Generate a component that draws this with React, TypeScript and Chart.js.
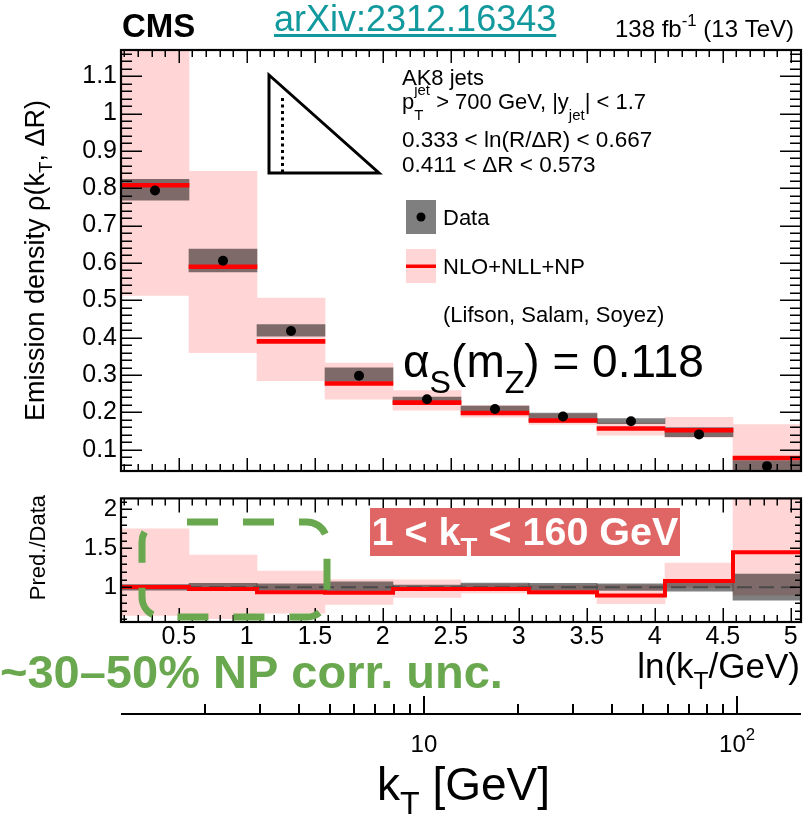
import React, { useEffect, useRef } from 'react';
import { Chart, registerables } from 'chart.js';

Chart.register(...registerables);

const FONT = "'Liberation Sans', Arial, Helvetica, sans-serif";

// ---------------- data ----------------
const binEdges = [0.075, 0.575, 1.075, 1.575, 2.075, 2.575, 3.075, 3.575, 4.075, 4.575, 5.075];
const binCenters = [0.325, 0.825, 1.325, 1.825, 2.325, 2.825, 3.325, 3.825, 4.325, 4.825];

const dataVal = [0.794, 0.606, 0.418, 0.298, 0.235, 0.209, 0.189, 0.176, 0.141, 0.056];
const dataLo = [0.768, 0.576, 0.404, 0.283, 0.222, 0.203, 0.174, 0.17, 0.135, 0.02];
const dataHi = [0.8235, 0.637, 0.435, 0.319, 0.241, 0.217, 0.198, 0.183, 0.159, 0.071];

const theoryVal = [0.808, 0.59, 0.39, 0.277, 0.226, 0.198, 0.178, 0.157, 0.152, 0.078];
const theoryLo = [0.513, 0.36, 0.285, 0.235, 0.206, 0.187, 0.168, 0.139, 0.133, 0.02];
const theoryHi = [1.25, 0.845, 0.506, 0.332, 0.258, 0.219, 0.195, 0.172, 0.187, 0.167];

const ratioTheory = [1.005, 0.98, 0.936, 0.93, 0.98, 0.98, 0.936, 0.896, 1.08, 1.45];
const ratioBandLo = [0.64, 0.6, 0.67, 0.78, 0.87, 0.93, 0.91, 0.79, 1.0, 0.9];
const ratioBandHi = [1.75, 1.415, 1.21, 1.1, 1.096, 1.04, 1.03, 1.03, 1.31, 2.5];
const ratioDataLo = [0.965, 0.96, 0.96, 0.95, 0.97, 0.96, 0.96, 0.96, 0.95, 0.835];
const ratioDataHi = [1.035, 1.05, 1.045, 1.07, 1.03, 1.055, 1.05, 1.045, 1.06, 1.17];
const ratioRef = [1, 1];

const upperYTicks = [0.1, 0.2, 0.3, 0.4, 0.5, 0.6, 0.7, 0.8, 0.9, 1, 1.1];
const ratioYTicks = [1, 1.5, 2];
const lnKtTicks = [0.5, 1, 1.5, 2, 2.5, 3, 3.5, 4, 4.5, 5];
const ktMajorTicks = [10, 100];
const ktMajorLabels = [[{ t: '10' }], [{ t: '10', sup: '2' }]];
const ktMinorTicks = [2, 3, 4, 5, 6, 7, 8, 9, 20, 30, 40, 50, 60, 70, 80, 90];

const lnRange = [0.075, 5.075];
const upperYRange = [0.043, 1.17];
const ratioYRange = [0.556, 2.14];
const ktRange = [1.078, 160];

// ---------------- styles ----------------
const PINK = '#ffd5d5';
const GRAY = 'rgba(0,0,0,0.5)';
const RED = '#ff0000';
const GREEN = '#6aa84f';
const TEAL = '#11999e';
const LO_TOP = 480;

type Seg = { t: string; sub?: string; sup?: string };
type RichOpts = {
  weight?: string;
  color?: string;
  align?: 'left' | 'center' | 'right';
  scale?: number;
  subDy?: number;
  supDy?: number;
};

function richWidth(ctx: CanvasRenderingContext2D, segs: Seg[], size: number, o: RichOpts) {
  const w8 = o.weight || 'normal';
  const sc = o.scale ?? 0.7;
  let w = 0;
  for (const s of segs) {
    ctx.font = `${w8} ${size}px ${FONT}`;
    w += ctx.measureText(s.t).width;
    ctx.font = `${w8} ${size * sc}px ${FONT}`;
    const a = s.sub ? ctx.measureText(s.sub).width : 0;
    const b = s.sup ? ctx.measureText(s.sup).width : 0;
    w += Math.max(a, b);
  }
  return w;
}

function drawRich(ctx: CanvasRenderingContext2D, segs: Seg[], x: number, y: number, size: number, o: RichOpts = {}) {
  const w8 = o.weight || 'normal';
  const sc = o.scale ?? 0.7;
  const subDy = (o.subDy ?? 0.3) * size;
  const supDy = (o.supDy ?? -0.42) * size;
  const total = richWidth(ctx, segs, size, o);
  let cx = o.align === 'center' ? x - total / 2 : o.align === 'right' ? x - total : x;
  ctx.fillStyle = o.color || '#000';
  ctx.textBaseline = 'alphabetic';
  ctx.textAlign = 'left';
  for (const s of segs) {
    ctx.font = `${w8} ${size}px ${FONT}`;
    ctx.fillText(s.t, cx, y);
    cx += ctx.measureText(s.t).width;
    ctx.font = `${w8} ${size * sc}px ${FONT}`;
    let a = 0;
    let b = 0;
    if (s.sub) {
      ctx.fillText(s.sub, cx, y + subDy);
      a = ctx.measureText(s.sub).width;
    }
    if (s.sup) {
      ctx.fillText(s.sup, cx, y + supDy);
      b = ctx.measureText(s.sup).width;
    }
    cx += Math.max(a, b);
  }
}

type Mark = { v: number; major: boolean };
const lnMarks: Mark[] = [];
for (let k = 1; k <= 50; k++) lnMarks.push({ v: k / 10, major: k % 5 === 0 });
const upperYMarks: Mark[] = [];
for (let k = 3; k <= 58; k++) upperYMarks.push({ v: k / 50, major: k % 5 === 0 });
const ratioYMarks: Mark[] = [];
for (let k = 6; k <= 21; k++) ratioYMarks.push({ v: k / 10, major: k % 5 === 0 });

function drawFrame(chart: any, yMarks: Mark[], L: { xMaj: number; xMin: number; yMaj: number; yMin: number }) {
  const { ctx, chartArea: a } = chart;
  const xs = chart.scales.x;
  const ys = chart.scales.y;
  ctx.save();
  ctx.strokeStyle = '#000';
  ctx.lineWidth = 1.5;
  ctx.beginPath();
  for (const m of lnMarks) {
    if (m.v < xs.min || m.v > xs.max) continue;
    const px = Math.round(xs.getPixelForValue(m.v)) + 0.25;
    const len = m.major ? L.xMaj : L.xMin;
    ctx.moveTo(px, a.top);
    ctx.lineTo(px, a.top + len);
    ctx.moveTo(px, a.bottom);
    ctx.lineTo(px, a.bottom - len);
  }
  for (const m of yMarks) {
    if (m.v < ys.min || m.v > ys.max) continue;
    const py = Math.round(ys.getPixelForValue(m.v)) + 0.25;
    const len = m.major ? L.yMaj : L.yMin;
    ctx.moveTo(a.left, py);
    ctx.lineTo(a.left + len, py);
    ctx.moveTo(a.right, py);
    ctx.lineTo(a.right - len, py);
  }
  ctx.stroke();
  ctx.lineWidth = 2.2;
  ctx.strokeRect(a.left, a.top, a.right - a.left, a.bottom - a.top);
  ctx.restore();
}

const upperOverlay = {
  id: 'upperOverlay',
  afterDraw(chart: any) {
    const ctx: CanvasRenderingContext2D = chart.ctx;
    drawFrame(chart, upperYMarks, { xMaj: 13, xMin: 7, yMaj: 21, yMin: 11 });
    ctx.save();
    // header
    drawRich(ctx, [{ t: 'CMS' }], 122, 37, 33, { weight: 'bold' });
    drawRich(ctx, [{ t: 'arXiv:2312.16343' }], 274, 31, 36, { color: TEAL });
    ctx.fillStyle = TEAL;
    ctx.font = `normal 36px ${FONT}`;
    const aw = ctx.measureText('arXiv:2312.16343').width;
    ctx.fillRect(274, 34, aw, 3);
    drawRich(ctx, [{ t: '138 fb', sup: '-1' }, { t: ' (13 TeV)' }], 794, 37, 24, { align: 'right', supDy: -0.45 });

    // y title
    ctx.save();
    ctx.translate(44, 100);
    ctx.rotate(-Math.PI / 2);
    drawRich(ctx, [{ t: 'Emission density ρ(k', sub: 'T' }, { t: ', ΔR)' }], 0, 0, 27, { align: 'right', subDy: 0.3 });
    ctx.restore();

    // Lund-plane triangle
    ctx.strokeStyle = '#000';
    ctx.lineWidth = 3;
    ctx.lineJoin = 'miter';
    ctx.beginPath();
    ctx.moveTo(269, 75);
    ctx.lineTo(269, 173);
    ctx.lineTo(379, 173);
    ctx.closePath();
    ctx.stroke();
    ctx.save();
    ctx.setLineDash([3, 3.5]);
    ctx.beginPath();
    ctx.moveTo(282.5, 98);
    ctx.lineTo(282.5, 173);
    ctx.stroke();
    ctx.restore();

    // selection text
    drawRich(ctx, [{ t: 'AK8 jets' }], 402, 85, 22);
    drawRich(ctx, [{ t: 'p', sub: 'T', sup: 'jet' }, { t: ' > 700 GeV, |y', sub: 'jet' }, { t: '| < 1.7' }], 402, 109, 22, {
      scale: 0.68,
      subDy: 0.5,
      supDy: -0.62,
    });
    drawRich(ctx, [{ t: '0.333 < ln(R/ΔR) < 0.667' }], 402, 147, 22.5);
    drawRich(ctx, [{ t: '0.411 < ΔR < 0.573' }], 402, 172, 22.5);

    // legend
    ctx.fillStyle = GRAY;
    ctx.fillRect(406, 200, 30, 34);
    ctx.fillStyle = '#000';
    ctx.beginPath();
    ctx.arc(421, 217, 4.5, 0, Math.PI * 2);
    ctx.fill();
    drawRich(ctx, [{ t: 'Data' }], 443, 225, 22);
    ctx.fillStyle = PINK;
    ctx.fillRect(406, 249, 30, 34);
    ctx.fillStyle = RED;
    ctx.fillRect(406, 264.5, 30, 3.5);
    drawRich(ctx, [{ t: 'NLO+NLL+NP' }], 443, 274, 22);
    drawRich(ctx, [{ t: '(Lifson, Salam, Soyez)' }], 443, 322, 22);

    // alpha_s
    drawRich(ctx, [{ t: 'α', sub: 'S' }, { t: '(m', sub: 'Z' }, { t: ') = 0.118' }], 403, 377, 46, { subDy: 0.35 });
    ctx.restore();
  },
};

const lowerOverlay = {
  id: 'lowerOverlay',
  afterDraw(chart: any) {
    const ctx: CanvasRenderingContext2D = chart.ctx;
    drawFrame(chart, ratioYMarks, { xMaj: 14, xMin: 7, yMaj: 11, yMin: 6 });
    const x2 = chart.scales.x2;
    ctx.save();
    ctx.setLineDash([]);
    ctx.translate(0, -LO_TOP);

    // y title
    ctx.save();
    ctx.translate(45, 495);
    ctx.rotate(-Math.PI / 2);
    drawRich(ctx, [{ t: 'Pred./Data' }], 0, 0, 22, { align: 'right' });
    ctx.restore();

    // kT range box
    ctx.fillStyle = '#e06666';
    ctx.fillRect(370, 508, 310, 48);
    drawRich(ctx, [{ t: '1 < k', sub: 'T' }, { t: ' < 160 GeV' }], 525, 545, 39.5, {
      weight: 'bold',
      color: '#fff',
      align: 'center',
      subDy: 0.3,
    });

    // green dashed box
    ctx.save();
    ctx.strokeStyle = GREEN;
    ctx.lineWidth = 7;
    ctx.setLineDash([31, 25]);
    ctx.lineDashOffset = 31;
    ctx.beginPath();
    (ctx as any).roundRect(142, 522, 185, 95, 20);
    ctx.stroke();
    ctx.restore();

    // ln(kT/GeV) label
    drawRich(ctx, [{ t: 'ln(k', sub: 'T' }, { t: '/GeV)' }], 800, 678, 35, { align: 'right', subDy: 0.32 });

    // NP note
    drawRich(ctx, [{ t: '~30–50% NP corr. unc.' }], 0, 688, 47, { weight: 'bold', color: GREEN });

    // kT log axis (line + upward ticks)
    const yAx = Math.round(x2.top) + LO_TOP;
    ctx.fillStyle = '#000';
    ctx.fillRect(x2.left, yAx - 1, x2.right - x2.left, 2);
    for (const v of ktMinorTicks) {
      const px = Math.round(x2.getPixelForValue(v));
      ctx.fillRect(px - 1, yAx - 10, 2, 10);
    }
    for (const v of ktMajorTicks) {
      const px = Math.round(x2.getPixelForValue(v));
      ctx.fillRect(px - 1, yAx - 18, 2, 18);
    }
    ktMajorTicks.forEach((v, i) => {
      drawRich(ctx, ktMajorLabels[i], x2.getPixelForValue(v), yAx + 38, 24, { align: 'center', supDy: -0.5 });
    });
    drawRich(ctx, [{ t: 'k', sub: 'T' }, { t: ' [GeV]' }], 377, 800, 46, { subDy: 0.3 });
    ctx.restore();
  },
};

function barSet(lo: number[], hi: number[], color: string, order: number) {
  return {
    type: 'bar',
    data: binCenters.map((x, i) => ({ x, y: [lo[i], hi[i]] })),
    backgroundColor: color,
    borderWidth: 0,
    grouped: false,
    categoryPercentage: 1,
    barPercentage: 1,
    order,
    clip: 0,
    xAxisID: 'x',
    yAxisID: 'y',
  };
}

function lnAxis(showLabels: boolean, height?: number) {
  return {
    type: 'linear',
    position: 'bottom',
    offset: false,
    min: lnRange[0],
    max: lnRange[1],
    display: showLabels,
    weight: 1,
    afterBuildTicks: (s: any) => {
      s.ticks = lnKtTicks.map((v) => ({ value: v }));
    },
    afterFit: (s: any) => {
      if (height !== undefined) s.height = height;
    },
    grid: { display: false, drawTicks: false, offset: false },
    border: { display: false },
    ticks: {
      font: { family: FONT, size: 25 },
      color: '#000',
      padding: 0,
      maxRotation: 0,
      autoSkip: false,
      callback: (v: any) => String(v),
    },
  };
}

function yAxis(range: number[], ticks: number[], size: number) {
  return {
    type: 'linear',
    position: 'left',
    min: range[0],
    max: range[1],
    afterBuildTicks: (s: any) => {
      s.ticks = ticks.map((v) => ({ value: v }));
    },
    afterFit: (s: any) => {
      s.width = 121;
    },
    grid: { display: false, drawTicks: false },
    border: { display: false },
    ticks: {
      font: { family: FONT, size },
      color: '#000',
      padding: 4,
      callback: (v: any) => String(v),
    },
  };
}

function upperConfig(): any {
  return {
    type: 'bar',
    data: {
      datasets: [
        barSet(theoryLo, theoryHi, PINK, 4),
        barSet(dataLo, dataHi, GRAY, 3),
        barSet(
          theoryVal.map((v) => v - 0.0052),
          theoryVal.map((v) => v + 0.0052),
          RED,
          2
        ),
        {
          type: 'scatter',
          data: binCenters.map((x, i) => ({ x, y: dataVal[i] })),
          pointRadius: 5,
          pointBackgroundColor: '#000',
          pointBorderWidth: 0,
          order: 1,
          clip: 0,
          xAxisID: 'x',
          yAxisID: 'y',
        },
      ],
    },
    options: {
      responsive: false,
      animation: false,
      events: [],
      layout: { padding: { top: 50, right: 5, bottom: 8, left: 0 } },
      plugins: { legend: { display: false }, tooltip: { enabled: false } },
      scales: {
        x: lnAxis(false),
        y: yAxis(upperYRange, upperYTicks, 25),
      },
    },
    plugins: [upperOverlay],
  };
}

function lowerConfig(): any {
  const stepPts = binEdges.map((x, i) => ({ x, y: ratioTheory[Math.min(i, ratioTheory.length - 1)] }));
  return {
    type: 'bar',
    data: {
      datasets: [
        barSet(ratioBandLo, ratioBandHi, PINK, 4),
        barSet(ratioDataLo, ratioDataHi, GRAY, 3),
        {
          type: 'line',
          data: [
            { x: lnRange[0], y: ratioRef[0] },
            { x: lnRange[1], y: ratioRef[1] },
          ],
          borderColor: '#4a4a4a',
          borderWidth: 2,
          borderDash: [15, 7],
          pointRadius: 0,
          fill: false,
          order: 2,
          clip: 0,
          xAxisID: 'x',
          yAxisID: 'y',
        },
        {
          type: 'line',
          data: stepPts,
          stepped: true,
          borderColor: RED,
          borderWidth: 4,
          pointRadius: 0,
          fill: false,
          order: 1,
          clip: 0,
          xAxisID: 'x',
          yAxisID: 'y',
        },
      ],
    },
    options: {
      responsive: false,
      animation: false,
      events: [],
      layout: { padding: { top: 13, right: 5, bottom: 0, left: 0 } },
      plugins: { legend: { display: false }, tooltip: { enabled: false } },
      scales: {
        x: lnAxis(true, 92),
        y: yAxis(ratioYRange, ratioYTicks, 24),
        x2: {
          type: 'logarithmic',
          position: 'bottom',
          offset: false,
          min: ktRange[0],
          max: ktRange[1],
          weight: 2,
          afterFit: (s: any) => {
            s.height = 101;
          },
          ticks: { display: false },
          grid: { display: false, drawTicks: false },
          border: { display: false },
        },
      },
    },
    plugins: [lowerOverlay],
  };
}

export default function App() {
  const upRef = useRef<HTMLCanvasElement>(null);
  const loRef = useRef<HTMLCanvasElement>(null);
  useEffect(() => {
    const c1 = new Chart(upRef.current as HTMLCanvasElement, upperConfig());
    const c2 = new Chart(loRef.current as HTMLCanvasElement, lowerConfig());
    return () => {
      c1.destroy();
      c2.destroy();
    };
  }, []);
  return (
    <div style={{ position: 'absolute', left: 0, top: 0, width: 806, height: 815, background: '#fff', overflow: 'hidden' }}>
      <canvas ref={upRef} width={806} height={490} style={{ position: 'absolute', left: 0, top: 0 }} />
      <canvas ref={loRef} width={806} height={335} style={{ position: 'absolute', left: 0, top: LO_TOP }} />
    </div>
  );
}
